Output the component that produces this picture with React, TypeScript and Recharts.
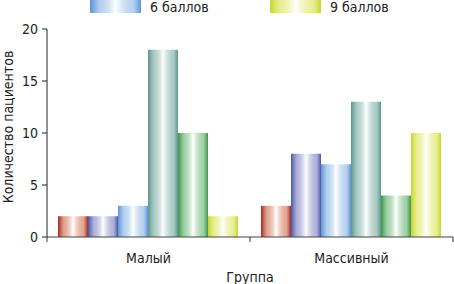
import { BarChart, Bar, XAxis, YAxis, Legend } from 'recharts';

const groups = ['Малый', 'Массивный'];
const seriesNames = ['4 балла', '5 баллов', '6 баллов', '7 баллов', '8 баллов', '9 баллов'];
const score4 = [2, 3];
const score5 = [2, 8];
const score6 = [3, 7];
const score7 = [18, 13];
const score8 = [10, 4];
const score9 = [2, 10];
const yTicks = [0, 5, 10, 15, 20];
const legendShown = ['6 баллов', '9 баллов'];

const edgeColors: [string, string][] = [
  ['#a3262a', '#cf6a45'],
  ['#4656a6', '#7c7cc0'],
  ['#5d92d6', '#84b2e2'],
  ['#5b978c', '#74a89e'],
  ['#379647', '#5fb06c'],
  ['#c6d62c', '#d9e34e'],
];

const seriesValues = [score4, score5, score6, score7, score8, score9];

const data = groups.map((g, i) => {
  const row: Record<string, string | number> = { group: g };
  seriesNames.forEach((name, s) => {
    row[name] = seriesValues[s][i];
  });
  return row;
});

const FONT = '"Liberation Sans Narrow", "Arial Narrow", "DejaVu Sans Condensed", sans-serif';

const gradId = (i: number) => `barGrad${i}`;

function GroupTick(props: any) {
  const { x, y, payload } = props;
  const half = payload.offset ?? 101.5;
  return (
    <g>
      <line x1={x - half} y1={y} x2={x - half} y2={y + 5} stroke="#333" />
      {payload.index === groups.length - 1 && (
        <line x1={x + half} y1={y} x2={x + half} y2={y + 5} stroke="#333" />
      )}
      <text x={x} y={y + 26} textAnchor="middle" fontSize={14} fill="#222" fontFamily={FONT}>
        {payload.value}
      </text>
    </g>
  );
}

function LegendRow() {
  return (
    <svg width={454} height={16} style={{ display: 'block' }}>
      {legendShown.map((name, i) => {
        const s = seriesNames.indexOf(name);
        const x = i === 0 ? 90 : 270;
        return (
          <g key={name}>
            <rect x={x} y={0} width={51} height={13} fill={`url(#${gradId(s)})`} />
            <text x={x + 60} y={12} fontSize={14} fill="#222" fontFamily={FONT}>
              {name}
            </text>
          </g>
        );
      })}
    </svg>
  );
}

function YLabel(props: any) {
  const { viewBox } = props;
  const cy = viewBox.y + viewBox.height / 2 - 6;
  const cx = 8;
  return (
    <text
      x={cx}
      y={cy}
      transform={`rotate(-90 ${cx} ${cy})`}
      textAnchor="middle"
      dominantBaseline="central"
      fontSize={14}
      fill="#222"
      fontFamily={FONT}
    >
      Количество пациентов
    </text>
  );
}

export default function App() {
  return (
    <div style={{ position: 'absolute', left: 0, top: 0, width: 454, height: 284, background: '#fff' }}>
      <BarChart
        width={454}
        height={284}
        data={data}
        margin={{ top: 29, right: 1, left: 0, bottom: 0 }}
        barCategoryGap={11}
        barGap={0}
      >
        <defs>
          {edgeColors.map(([a, b], i) => (
            <linearGradient key={i} id={gradId(i)} x1="0" y1="0" x2="1" y2="0">
              <stop offset="0%" stopColor={a} />
              <stop offset="20%" stopColor={b} stopOpacity={0.6} />
              <stop offset="50%" stopColor="#ffffff" />
              <stop offset="85%" stopColor={b} stopOpacity={0.6} />
              <stop offset="100%" stopColor={a} />
            </linearGradient>
          ))}
        </defs>
        <XAxis
          dataKey="group"
          height={47}
          tickLine={false}
          tickSize={0}
          tickMargin={0}
          axisLine={{ stroke: '#444' }}
          tick={<GroupTick />}
          interval={0}
          label={{
            value: 'Группа',
            position: 'insideBottom',
            offset: 2,
            fontSize: 14,
            fill: '#222',
            fontFamily: FONT,
          }}
        />
        <YAxis
          width={47}
          domain={[0, 20]}
          ticks={yTicks}
          tickSize={5}
          tickMargin={4}
          axisLine={{ stroke: '#222' }}
          tickLine={{ stroke: '#222' }}
          tick={{ fontSize: 14, fill: '#222', fontFamily: FONT }}
          label={<YLabel />}
        />
        <Legend
          layout="horizontal"
          verticalAlign="middle"
          align="center"
          wrapperStyle={{ top: 0, left: 0, width: 454, height: 16 }}
          content={() => <LegendRow />}
        />
        {seriesNames.map((name, i) => (
          <Bar key={name} dataKey={name} fill={`url(#${gradId(i)})`} isAnimationActive={false} />
        ))}
      </BarChart>
    </div>
  );
}
